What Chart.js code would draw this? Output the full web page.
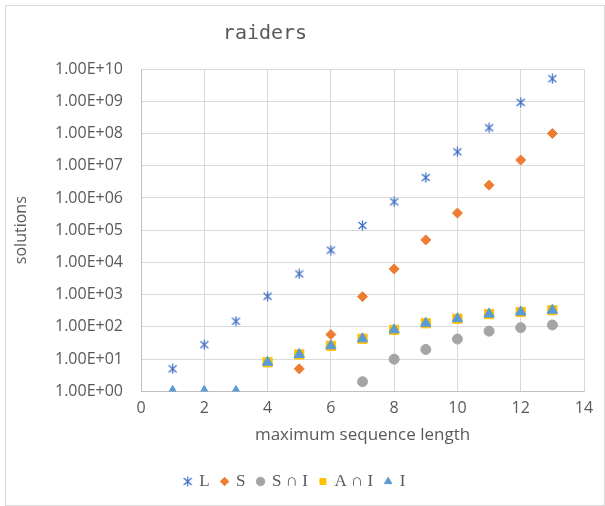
<!DOCTYPE html>
<html lang="en">
<head>
  <meta charset="UTF-8" />
  <title>raiders</title>
  <script src="https://cdn.jsdelivr.net/npm/chart.js"></script>
  <style>
    html, body { margin: 0; padding: 0; background: #fff; }
    .frame {
      position: absolute;
      left: 5px;
      top: 5px;
      width: 598px;
      height: 499px;
      border: 1px solid #d9d9d9;
      background: #fff;
    }
    canvas { display: block; }
  </style>
</head>
<body>
  <div class="frame">
    <canvas id="chart" width="598" height="499"></canvas>
  </div>

  <script>
    // data (log scale)
    const seqLength = [1, 2, 3, 4, 5, 6, 7, 8, 9, 10, 11, 12, 13];
    const solL   = [5, 28, 150, 890, 4400, 24000, 140000, 760000, 4300000, 27000000, 150000000, 920000000, 5000000000];
    const solS   = [null, null, null, null, 5, 58, 870, 6300, 50000, 340000, 2500000, 15000000, 100000000];
    const solSI  = [null, null, null, null, null, null, 2, 10, 20, 42, 74, 95, 115];
    const solAI  = [null, null, null, 8, 14, 26, 43, 81, 130, 180, 250, 290, 330];
    const solI   = [1, 1, 1, 8, 14, 26, 43, 81, 130, 180, 250, 290, 330];
    const yTickExponents = [0, 1, 2, 3, 4, 5, 6, 7, 8, 9, 10];
    const chartTitle = 'raiders';

    const grey = '#595959';

    // excel style "star" marker: x with a vertical bar
    function starMarker(color) {
      const c = document.createElement('canvas');
      c.width = 11; c.height = 11;
      const g = c.getContext('2d');
      g.strokeStyle = color;
      g.lineWidth = 1.3;
      g.beginPath();
      g.moveTo(1.5, 2); g.lineTo(9.5, 9);
      g.moveTo(9.5, 2); g.lineTo(1.5, 9);
      g.moveTo(5.5, 0.5); g.lineTo(5.5, 10.5);
      g.stroke();
      return c;
    }

    function pts(arr) {
      return seqLength.map((x, i) => ({ x: x, y: arr[i] })).filter(p => p.y !== null);
    }

    function fmtExp(v) {
      const e = Math.round(Math.log10(v));
      return '1.00E+' + String(e).padStart(2, '0');
    }

    // title drawn by hand so it can sit left of the canvas centre like the original
    const titlePlugin = {
      id: 'leftTitle',
      afterDraw(chart) {
        const ctx = chart.ctx;
        ctx.save();
        ctx.font = '20px "DejaVu Sans Mono"';
        ctx.fillStyle = grey;
        ctx.textAlign = 'center';
        ctx.textBaseline = 'middle';
        ctx.fillText(chartTitle, 259, 28);
        ctx.restore();
      }
    };

    const chart = new Chart(document.getElementById('chart'), {
      type: 'scatter',
      data: {
        datasets: [
          { label: 'L', data: pts(solL), pointStyle: starMarker('#4472C4'),
            backgroundColor: '#4472C4', borderColor: '#4472C4', order: 0 },
          { label: 'S', data: pts(solS), pointStyle: 'rectRot', pointRadius: 5,
            backgroundColor: '#ED7D31', borderColor: '#ED7D31', order: 0 },
          { label: 'S \u2229 I', data: pts(solSI), pointStyle: 'circle', pointRadius: 5,
            backgroundColor: '#A5A5A5', borderColor: '#A5A5A5', order: 0 },
          { label: 'A \u2229 I', data: pts(solAI), pointStyle: 'rect', pointRadius: 6.5,
            backgroundColor: '#FFC000', borderColor: '#FFC000', order: 1 },
          { label: 'I', data: pts(solI), pointStyle: 'triangle', pointRadius: 6,
            backgroundColor: '#5B9BD5', borderColor: '#5B9BD5', order: 0 }
        ]
      },
      plugins: [titlePlugin],
      options: {
        responsive: false,
        animation: false,
        layout: { padding: { left: 0, right: 20, top: 63, bottom: 5 } },
        plugins: {
          title: { display: false },
          legend: {
            position: 'bottom',
            labels: {
              usePointStyle: true,
              boxWidth: 6,
              boxHeight: 6,
              padding: 12,
              color: grey,
              font: { family: 'Liberation Serif', size: 17 },
              sort: (a, b) => a.datasetIndex - b.datasetIndex
            }
          },
          tooltip: { enabled: false }
        },
        scales: {
          x: {
            type: 'linear',
            min: 0,
            max: 14,
            ticks: {
              stepSize: 2,
              color: grey,
              padding: 7,
              font: { family: 'Open Sans', size: 16 }
            },
            grid: { color: '#d9d9d9', drawTicks: false },
            border: { color: '#bfbfbf' },
            title: {
              display: true,
              text: 'maximum sequence length',
              color: grey,
              font: { family: 'Open Sans', size: 17 },
              padding: { top: 0, bottom: 16 }
            }
          },
          y: {
            type: 'logarithmic',
            min: 1,
            max: 1e10,
            afterBuildTicks: s => { s.ticks = yTickExponents.map(e => ({ value: Math.pow(10, e) })); },
            afterFit: s => { s.width = 135; },
            ticks: {
              color: grey,
              padding: 18,
              font: { family: 'Open Sans', size: 16 },
              callback: v => fmtExp(v)
            },
            grid: { color: '#d9d9d9', drawTicks: false },
            border: { color: '#bfbfbf' },
            title: {
              display: true,
              text: 'solutions',
              color: grey,
              font: { family: 'Open Sans', size: 16 },
              padding: { top: 6, bottom: 4 }
            }
          }
        }
      }
    });
  </script>
</body>
</html>
